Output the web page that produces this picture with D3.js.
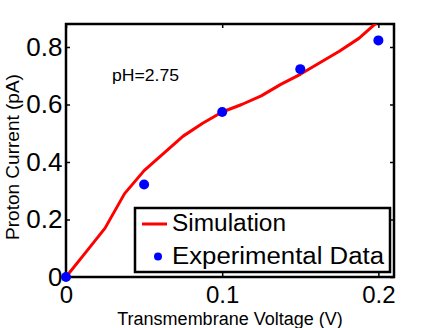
<!DOCTYPE html>
<html>
<head>
<meta charset="utf-8">
<script src="https://cdn.jsdelivr.net/npm/d3@7"></script>
<style>
  html, body { margin: 0; padding: 0; background: #fff; }
  svg { display: block; font-family: "Liberation Sans", Arial, Helvetica, sans-serif; }
</style>
</head>
<body>
<script>
// simulated current vs voltage
const simV = [0, 0.0125, 0.025, 0.0375, 0.05, 0.0625, 0.075, 0.0875, 0.1, 0.1125, 0.125, 0.1375, 0.15, 0.1625, 0.175, 0.1875, 0.2];
const simI = [0, 0.085, 0.17, 0.29, 0.37, 0.43, 0.49, 0.535, 0.574, 0.60, 0.63, 0.67, 0.705, 0.745, 0.785, 0.83, 0.89];
// measured points
const expV = [0, 0.05, 0.1, 0.15, 0.2];
const expI = [0, 0.322, 0.574, 0.723, 0.823];

const xTicks = [0, 0.1, 0.2];
const yTicks = [0, 0.2, 0.4, 0.6, 0.8];
const seriesNames = ['Simulation', 'Experimental Data'];

const W = 436, H = 328;
const m = { left: 66, top: 24, right: 42, bottom: 51 };
const iw = W - m.left - m.right, ih = H - m.top - m.bottom;

const x = d3.scaleLinear().domain([0, 0.21]).range([0, iw]);
const y = d3.scaleLinear().domain([0, 0.88]).range([ih, 0]);

const svg = d3.select('body').append('svg').attr('width', W).attr('height', H);
const g = svg.append('g').attr('transform', `translate(${m.left},${m.top})`);

svg.append('defs').append('clipPath').attr('id', 'plot')
  .append('rect').attr('width', iw).attr('height', ih);

// axes with inward ticks on all four sides
const fmt = d => d === 0 ? '0' : d3.format('.1f')(d);
const styleAxis = sel => {
  sel.select('.domain').remove();
  sel.selectAll('line').attr('stroke', '#000').attr('stroke-width', 1.5);
  sel.selectAll('text').attr('fill', '#000');
};
g.append('g').attr('transform', `translate(0,${ih})`)
  .call(d3.axisBottom(x).tickValues(xTicks).tickFormat(fmt).tickSize(-4).tickPadding(9))
  .call(styleAxis).attr('font-size', 24);
g.append('g')
  .call(d3.axisLeft(y).tickValues(yTicks).tickFormat(fmt).tickSize(-4).tickPadding(3.5))
  .call(styleAxis).attr('font-size', 26);
g.append('g')
  .call(d3.axisTop(x).tickValues(xTicks).tickFormat('').tickSize(-4))
  .call(styleAxis);
g.append('g').attr('transform', `translate(${iw},0)`)
  .call(d3.axisRight(y).tickValues(yTicks).tickFormat('').tickSize(-4))
  .call(styleAxis);

g.append('rect').attr('width', iw).attr('height', ih)
  .attr('fill', 'none').attr('stroke', '#000').attr('stroke-width', 2.5);

// simulation line
const line = d3.line().x(d => x(d[0])).y(d => y(d[1]));
g.append('path').datum(d3.zip(simV, simI))
  .attr('clip-path', 'url(#plot)')
  .attr('d', line).attr('fill', 'none')
  .attr('stroke', '#ff0000').attr('stroke-width', 3).attr('stroke-linejoin', 'round');

// experimental points
g.selectAll('.pt').data(d3.zip(expV, expI)).enter().append('circle')
  .attr('cx', d => x(d[0])).attr('cy', d => y(d[1])).attr('r', 5)
  .attr('fill', '#0000ff');

// annotation
g.append('text').attr('x', x(0.0295)).attr('y', y(0.6825))
  .attr('font-size', 16).attr('textLength', 67).attr('lengthAdjust', 'spacingAndGlyphs')
  .text('pH=2.75');

// legend
const lg = g.append('g').attr('transform', `translate(${135 - m.left},${208 - m.top})`);
lg.append('rect').attr('width', 255).attr('height', 64)
  .attr('fill', '#fff').attr('stroke', '#000').attr('stroke-width', 2.5);
lg.append('line').attr('x1', 7).attr('x2', 32).attr('y1', 16).attr('y2', 16)
  .attr('stroke', '#ff0000').attr('stroke-width', 3);
lg.append('circle').attr('cx', 23).attr('cy', 48.5).attr('r', 4).attr('fill', '#0000ff');
lg.selectAll('.lt').data(seriesNames).enter().append('text')
  .attr('x', 37).attr('y', (d, i) => 23 + i * 33)
  .attr('font-size', 23)
  .attr('textLength', (d, i) => i === 0 ? 114 : 212)
  .attr('lengthAdjust', 'spacingAndGlyphs')
  .text(d => d);

// axis titles
svg.append('text').attr('x', m.left + iw / 2).attr('y', 325)
  .attr('text-anchor', 'middle').attr('font-size', 18)
  .text('Transmembrane Voltage (V)');
svg.append('text').attr('transform', `translate(19,157) rotate(-90)`)
  .attr('text-anchor', 'middle').attr('font-size', 19)
  .text('Proton Current (pA)');
</script>
</body>
</html>
